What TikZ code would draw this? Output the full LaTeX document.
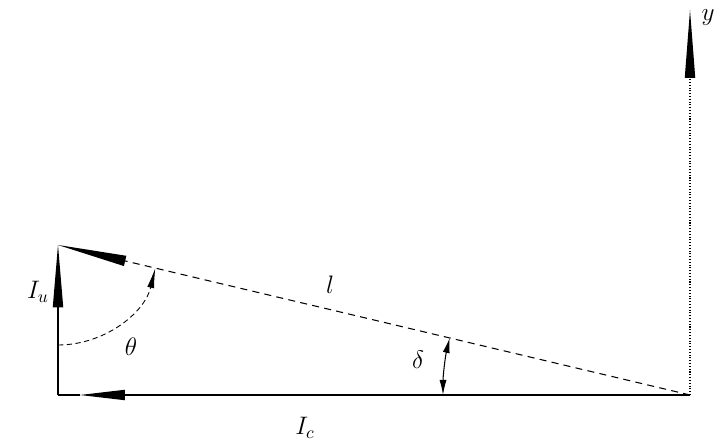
\documentclass[tikz,border=0pt]{standalone}
\usepackage{tikz}
\usetikzlibrary{arrows.meta}
\tikzset{
      vecline/.style={
        line width=0.6pt,
        -{Triangle[length=#1,width=6pt,line width'=0pt]}
      },
      vecline/.default=1.3cm,
      hypline/.style={
        line width=0.7pt,
        dash pattern=on 4pt off 3pt
      },
      anglearc/.style={
        line width=0.5pt,
        densely dashed
      },
      lbl/.style={
        font=\Large,
        inner sep=1pt
      }
    }
\begin{document}
\begin{tikzpicture}[x=0.02cm,y=0.02cm]
    \useasboundingbox (0,0) rectangle (726,442);
    \coordinate (A) at (58,197);
    \coordinate (B) at (58,47);
    \coordinate (C) at (690,47);
    \coordinate (Ic) at (80,47);
    \coordinate (Ytop) at (690,432);
    \node[lbl] (Iu) at (38,150) {$I_u$};
    \node[lbl] (Icl) at (305,14) {$I_c$};
    \node[lbl] (ll) at (330,157) {$l$};
    \node[lbl] (th) at (131,95) {$\theta$};
    \node[lbl] (de) at (418,82) {$\delta$};
    \node[lbl] (yl) at (708,424) {$y$};
    \draw[line width=0.6pt] (B) -- (Ic);
    \draw[vecline=0.9cm] (C) -- (Ic);
    \draw[vecline=1.25cm] (B) -- (A);
    \draw[hypline, vecline=1.38cm] (C) -- (A);
    \draw[line width=0.6pt, densely dotted, vecline=1.36cm] (C) -- (Ytop);
    \draw[anglearc, -{Latex[length=0.4cm,width=4pt]}] (A) ++(-90:100) arc[start angle=-90, end angle=-13.35, radius=100];
    \draw[line width=0.6pt, {Latex[length=0.3cm,width=4pt]}-{Latex[length=0.3cm,width=4pt]}] (C) ++(180:247) arc[start angle=180, end angle=166.65, radius=247];
\end{tikzpicture}
\end{document}
